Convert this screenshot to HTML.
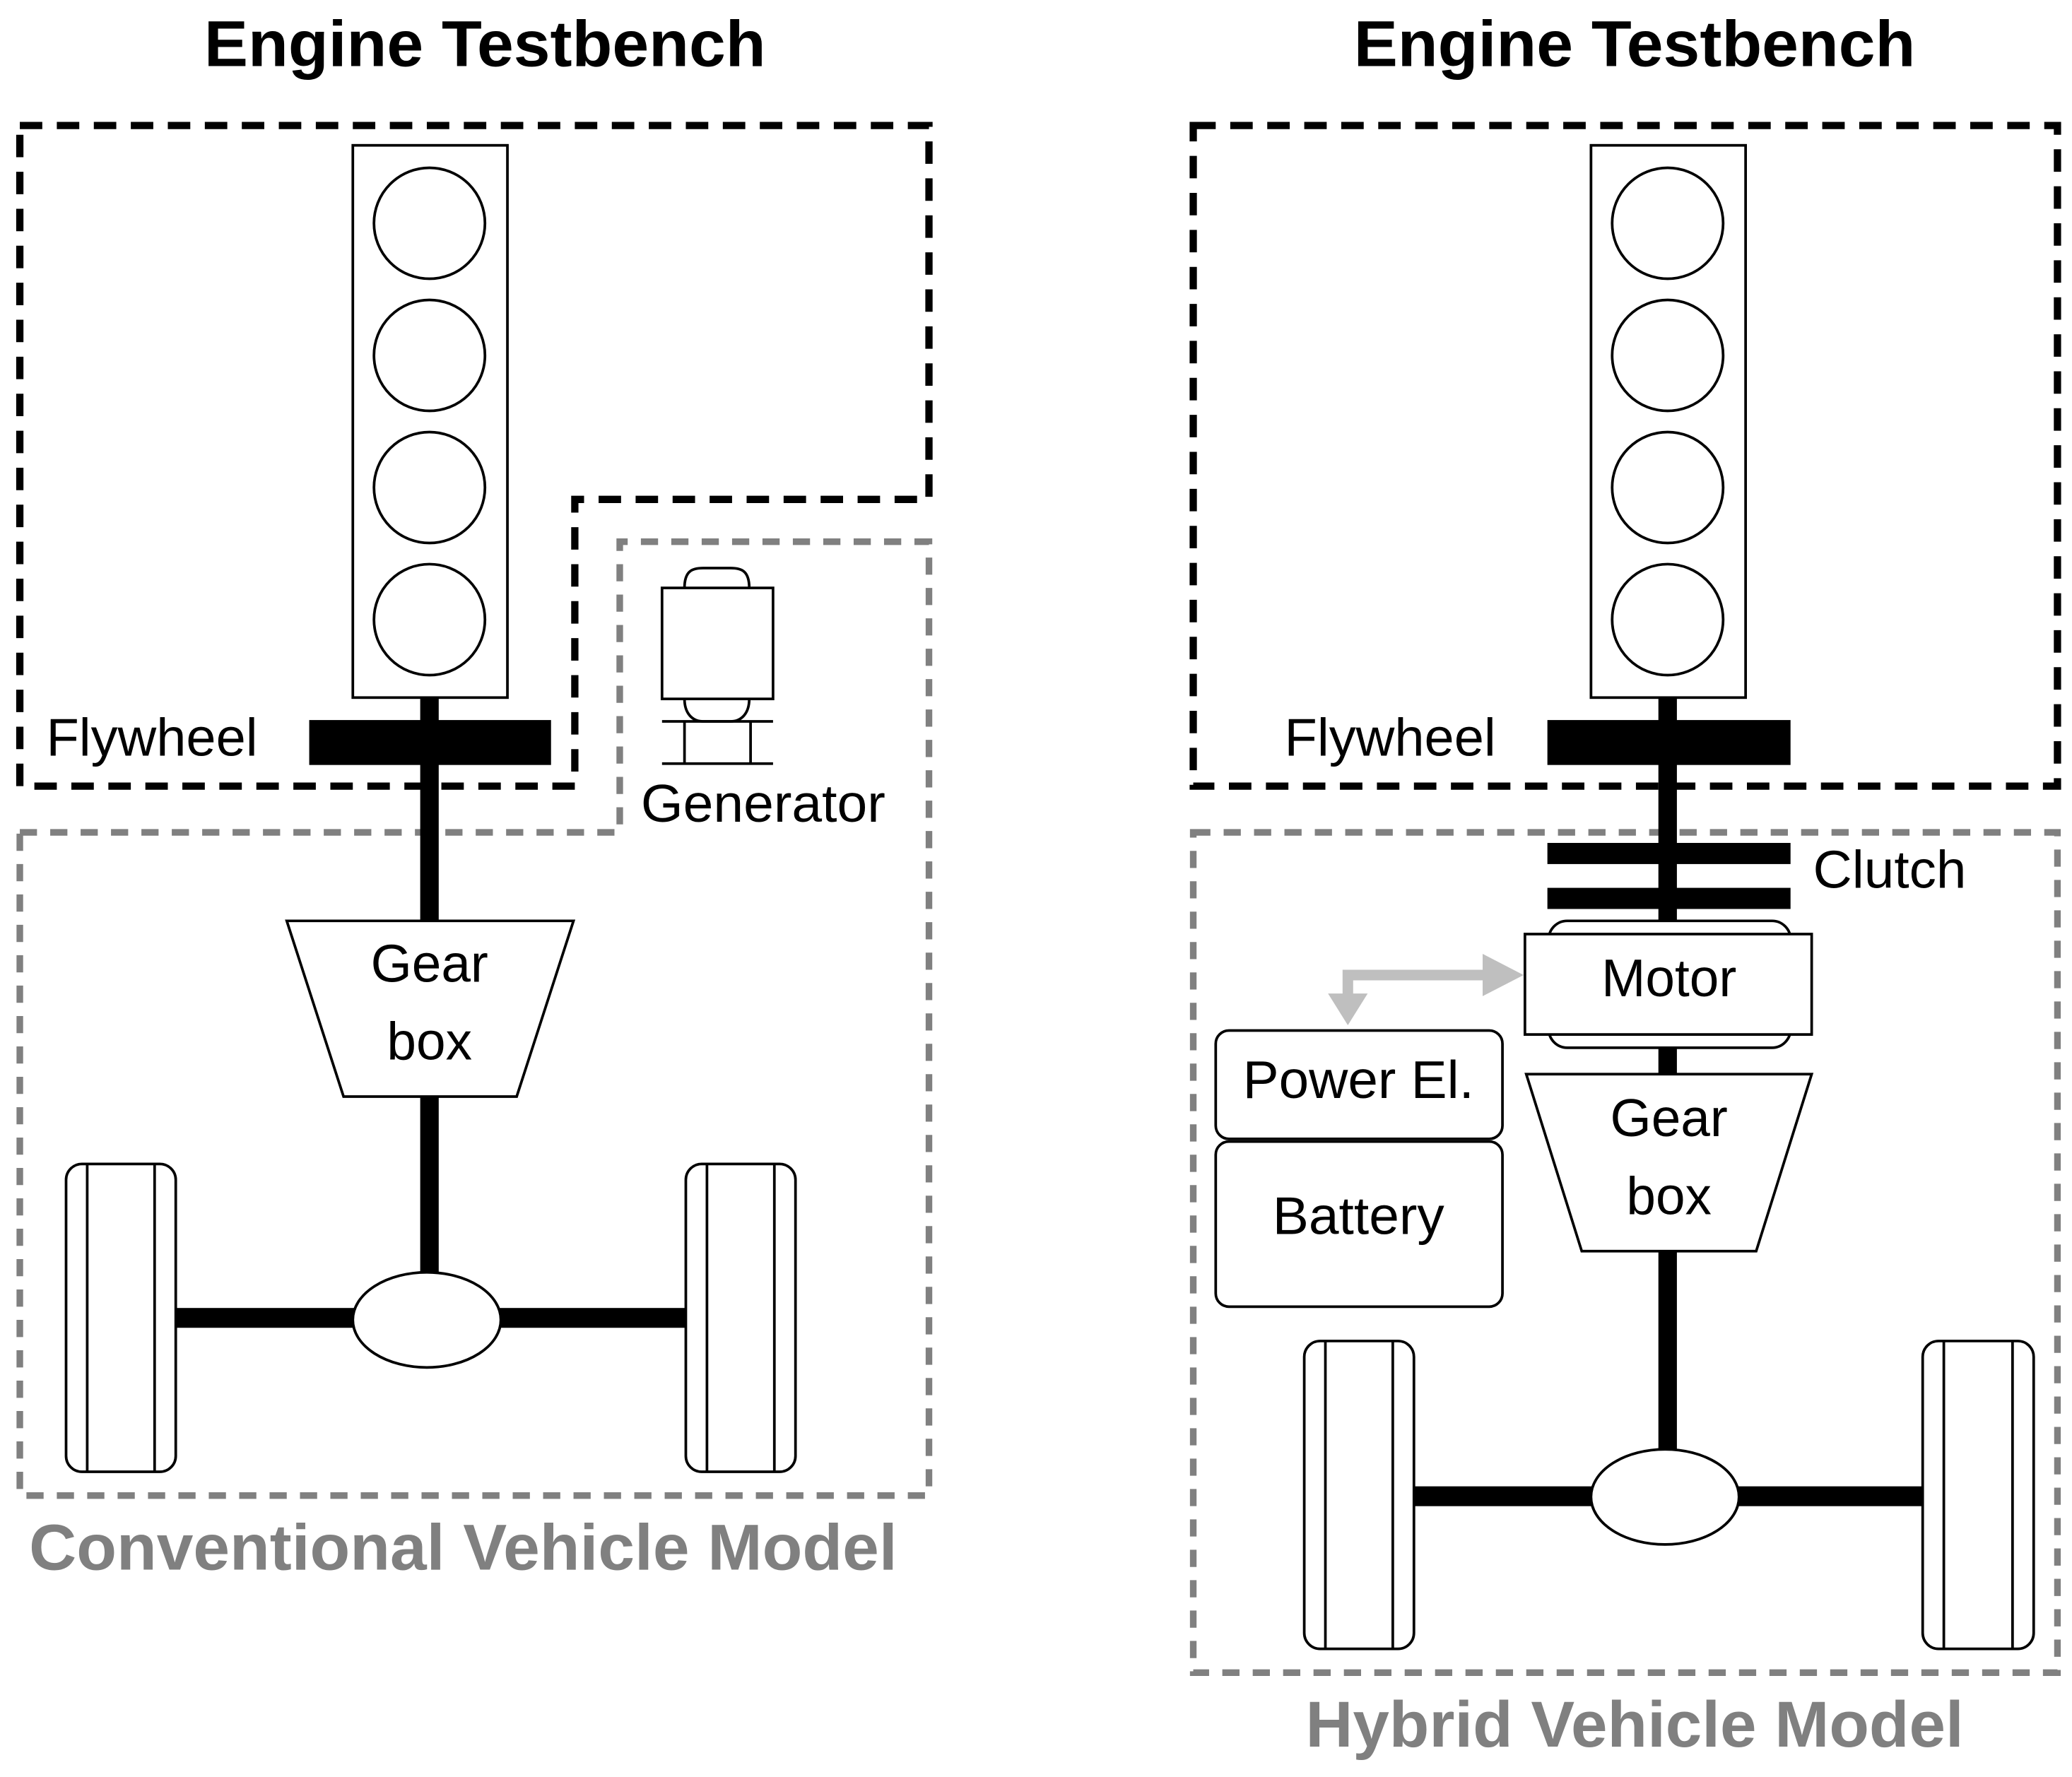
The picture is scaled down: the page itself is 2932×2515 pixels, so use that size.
<!DOCTYPE html>
<html><head><style>html,body{margin:0;padding:0;background:#fff}svg{display:block}</style></head>
<body>
<svg width="2932" height="2515" viewBox="0 0 1568 1345" preserveAspectRatio="none" xmlns="http://www.w3.org/2000/svg" font-family="Liberation Sans, sans-serif">
<rect width="1568" height="1345" fill="#fff"/>
<!-- LEFT -->
<text x="367" y="50" font-size="49" font-weight="bold" text-anchor="middle" textLength="425" lengthAdjust="spacingAndGlyphs">Engine Testbench</text>
<path d="M15,95 H703 V378 H435 V595 H15 Z" fill="none" stroke="#000" stroke-width="5.5" stroke-dasharray="17,11"/>
<path d="M15,630 H469 V410 H703 V1132 H15 Z" fill="none" stroke="#808080" stroke-width="5" stroke-dasharray="13,10"/>
<rect x="318" y="528" width="14" height="440" fill="#000"/>
<rect x="267" y="110" width="117" height="418" fill="#fff" stroke="#000" stroke-width="2"/>
<g fill="#fff" stroke="#000" stroke-width="2">
<circle cx="325" cy="169" r="42"/><circle cx="325" cy="269" r="42"/><circle cx="325" cy="369" r="42"/><circle cx="325" cy="469" r="42"/>
</g>
<rect x="234" y="545" width="183" height="34" fill="#000"/>
<text x="35" y="572" font-size="40" textLength="160" lengthAdjust="spacingAndGlyphs">Flywheel</text>
<polygon points="217,697 434,697 391,830 260,830" fill="#fff" stroke="#000" stroke-width="2"/>
<text x="325" y="743" font-size="40" text-anchor="middle">Gear</text>
<text x="325" y="802" font-size="40" text-anchor="middle">box</text>
<rect x="133" y="990" width="386" height="15" fill="#000"/>
<ellipse cx="323" cy="999" rx="56" ry="36" fill="#fff" stroke="#000" stroke-width="2"/>
<g fill="#fff" stroke="#000" stroke-width="2">
<rect x="50" y="881" width="83" height="233" rx="12"/><line x1="66" y1="881" x2="66" y2="1114"/><line x1="117" y1="881" x2="117" y2="1114"/>
<rect x="519" y="881" width="83" height="233" rx="12"/><line x1="535" y1="881" x2="535" y2="1114"/><line x1="586" y1="881" x2="586" y2="1114"/>
</g>
<g fill="#fff" stroke="#000" stroke-width="2">
<path d="M518,445 C518,432 524,430 532,430 H553 C561,430 567,432 567,445"/>
<path d="M518,529 C518,540 524,546 532,546 H553 C561,546 567,540 567,529"/>
<rect x="501" y="445" width="84" height="84"/>
<line x1="501" y1="546" x2="585" y2="546"/><line x1="501" y1="578" x2="585" y2="578"/>
<line x1="518" y1="546" x2="518" y2="578"/><line x1="568" y1="546" x2="568" y2="578"/>
</g>
<text x="485" y="622" font-size="40" textLength="185" lengthAdjust="spacingAndGlyphs">Generator</text>
<text x="22" y="1188" font-size="49" font-weight="bold" fill="#808080" textLength="657" lengthAdjust="spacingAndGlyphs">Conventional Vehicle Model</text>
<!-- RIGHT -->
<text x="1237" y="50" font-size="49" font-weight="bold" text-anchor="middle" textLength="425" lengthAdjust="spacingAndGlyphs">Engine Testbench</text>
<rect x="903" y="95" width="654" height="500" fill="none" stroke="#000" stroke-width="5.5" stroke-dasharray="17,11"/>
<rect x="903" y="630" width="654" height="636" fill="none" stroke="#808080" stroke-width="5" stroke-dasharray="13,10"/>
<rect x="1255" y="528" width="14" height="576" fill="#000"/>
<rect x="1204" y="110" width="117" height="418" fill="#fff" stroke="#000" stroke-width="2"/>
<g fill="#fff" stroke="#000" stroke-width="2">
<circle cx="1262" cy="169" r="42"/><circle cx="1262" cy="269" r="42"/><circle cx="1262" cy="369" r="42"/><circle cx="1262" cy="469" r="42"/>
</g>
<rect x="1171" y="545" width="184" height="34" fill="#000"/>
<text x="972" y="572" font-size="40" textLength="160" lengthAdjust="spacingAndGlyphs">Flywheel</text>
<rect x="1171" y="638" width="184" height="16" fill="#000"/>
<rect x="1171" y="672" width="184" height="16" fill="#000"/>
<text x="1372" y="672" font-size="40" textLength="116" lengthAdjust="spacingAndGlyphs">Clutch</text>
<rect x="1172" y="697" width="183" height="96" rx="14" fill="#fff" stroke="#000" stroke-width="2"/>
<rect x="1154" y="707" width="217" height="76" fill="#fff" stroke="#000" stroke-width="2"/>
<text x="1263" y="754" font-size="40" text-anchor="middle">Motor</text>
<polygon points="1155,813 1371,813 1329,947 1197,947" fill="#fff" stroke="#000" stroke-width="2"/>
<text x="1263" y="860" font-size="40" text-anchor="middle">Gear</text>
<text x="1263" y="919" font-size="40" text-anchor="middle">box</text>
<rect x="920" y="780" width="217" height="82" rx="10" fill="#fff" stroke="#000" stroke-width="2"/>
<text x="1028" y="831" font-size="40" text-anchor="middle" textLength="175" lengthAdjust="spacingAndGlyphs">Power El.</text>
<rect x="920" y="864" width="217" height="125" rx="10" fill="#fff" stroke="#000" stroke-width="2"/>
<text x="1028" y="934" font-size="40" text-anchor="middle" textLength="130" lengthAdjust="spacingAndGlyphs">Battery</text>
<path d="M1020,756 V738 H1125" fill="none" stroke="#bfbfbf" stroke-width="8"/>
<polygon points="1122,722 1153,738 1122,754" fill="#bfbfbf"/>
<polygon points="1005,752 1035,752 1020,776" fill="#bfbfbf"/>
<rect x="1070" y="1125" width="385" height="15" fill="#000"/>
<ellipse cx="1260" cy="1133" rx="56" ry="36" fill="#fff" stroke="#000" stroke-width="2"/>
<g fill="#fff" stroke="#000" stroke-width="2">
<rect x="987" y="1015" width="83" height="233" rx="12"/><line x1="1003" y1="1015" x2="1003" y2="1248"/><line x1="1054" y1="1015" x2="1054" y2="1248"/>
<rect x="1455" y="1015" width="84" height="233" rx="12"/><line x1="1471" y1="1015" x2="1471" y2="1248"/><line x1="1523" y1="1015" x2="1523" y2="1248"/>
</g>
<text x="1237" y="1322" font-size="49" font-weight="bold" fill="#808080" text-anchor="middle" textLength="498" lengthAdjust="spacingAndGlyphs">Hybrid Vehicle Model</text>
</svg>
</body></html>
